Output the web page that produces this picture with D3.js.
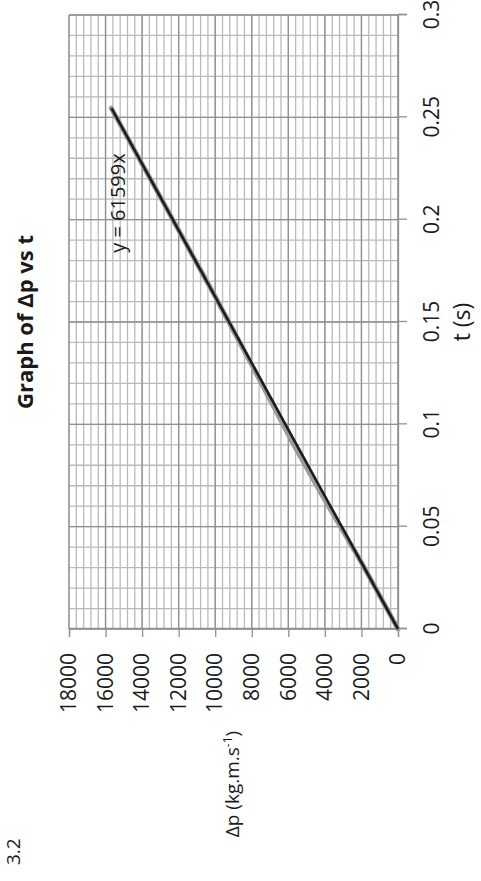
<!DOCTYPE html>
<html>
  <head>
    <meta charset="UTF-8">
    <title>Graph of Δp vs t</title>
    <style>
      body { margin: 0; background: #fff; }
      svg { display: block; }
      text { font-family: "Open Sans", "Noto Sans", sans-serif; fill: #1a1a1a; }
    </style>
  </head>
  <body>

    <svg class="chart"></svg>

    <script src="https://d3js.org/d3.v7.min.js"></script>
    <script>

/* DATA */
var tValues  = [0, 0.0325, 0.065, 0.09, 0.13, 0.165, 0.2, 0.2545];   // t (s)
var dpValues = [0, 2000, 4130, 5700, 8060, 10160, 12320, 15690];     // Δp (kg.m.s-1)
var trendSlope = 61599;                                             // y = 61599x
var tTicks  = [0, 0.05, 0.1, 0.15, 0.2, 0.25, 0.3];
var tLabels = ["0", "0.05", "0.1", "0.15", "0.2", "0.25", "0.3"];
var dpTicks = [0, 2000, 4000, 6000, 8000, 10000, 12000, 14000, 16000, 18000];

var W = 481, H = 881;

var svg = d3.select("svg")
    .attr("width", W)
    .attr("height", H);

// the whole chart is drawn the normal way, then turned a quarter left
var g = svg.append("g")
    .attr("transform", "translate(0," + H + ") rotate(-90)");

var x = d3.scaleLinear().domain([0, 0.3]).range([252, 866]);
var y = d3.scaleLinear().domain([0, 18000]).range([398, 69]);

// minor grid
var minorT = d3.range(0, 31).map(function(i) { return i / 100; });
var minorP = d3.range(0, 46).map(function(i) { return i * 400; });

g.append("g").selectAll("line")
  .data(minorT)
  .enter().append("line")
    .attr("x1", function(d) { return x(d); })
    .attr("x2", function(d) { return x(d); })
    .attr("y1", y(0))
    .attr("y2", y(18000))
    .attr("stroke", "#bababa")
    .attr("stroke-width", 1.3);

g.append("g").selectAll("line")
  .data(minorP)
  .enter().append("line")
    .attr("x1", x(0))
    .attr("x2", x(0.3))
    .attr("y1", function(d) { return y(d); })
    .attr("y2", function(d) { return y(d); })
    .attr("stroke", "#bababa")
    .attr("stroke-width", 1.3);

// major grid
g.append("g").selectAll("line")
  .data(tTicks)
  .enter().append("line")
    .attr("x1", function(d) { return x(d); })
    .attr("x2", function(d) { return x(d); })
    .attr("y1", y(0))
    .attr("y2", y(18000))
    .attr("stroke", "#909090")
    .attr("stroke-width", 1.3);

g.append("g").selectAll("line")
  .data(dpTicks)
  .enter().append("line")
    .attr("x1", x(0))
    .attr("x2", x(0.3))
    .attr("y1", function(d) { return y(d); })
    .attr("y2", function(d) { return y(d); })
    .attr("stroke", "#909090")
    .attr("stroke-width", 1.3);

// axes
var xAxis = d3.axisBottom(x)
    .tickValues(tTicks)
    .tickFormat(function(d, i) { return tLabels[i]; })
    .tickSize(9)
    .tickPadding(17);

var yAxis = d3.axisLeft(y)
    .tickValues(dpTicks)
    .tickFormat(d3.format("d"))
    .tickSize(8)
    .tickPadding(16);

var gx = g.append("g")
    .attr("transform", "translate(0," + y(0) + ")")
    .call(xAxis);

var gy = g.append("g")
    .attr("transform", "translate(" + x(0) + ",0)")
    .call(yAxis);

[gx, gy].forEach(function(a) {
  a.select(".domain").attr("stroke", "#909090").attr("stroke-width", 1.3);
  a.selectAll(".tick line").attr("stroke", "#909090").attr("stroke-width", 1.3);
  a.selectAll(".tick text")
      .attr("font-family", "Open Sans")
      .attr("font-size", 21)
      .attr("fill", "#1a1a1a");
});

// data line (grey) and trendline (black)
var line = d3.line()
    .x(function(d) { return x(d[0]); })
    .y(function(d) { return y(d[1]); });

var points = tValues.map(function(t, i) { return [t, dpValues[i]]; });

g.append("path")
    .datum(points)
    .attr("d", line)
    .attr("fill", "none")
    .attr("stroke", "#9b9b9b")
    .attr("stroke-width", 5)
    .attr("stroke-linecap", "round")
    .attr("stroke-linejoin", "round");

var tMax = d3.max(tValues);
g.append("path")
    .datum([[0, 0], [tMax, trendSlope * tMax]])
    .attr("d", line)
    .attr("fill", "none")
    .attr("stroke", "#1c1c1c")
    .attr("stroke-width", 2.6);

// trendline equation
g.append("text")
    .attr("x", x(0.1838))
    .attr("y", y(14940))
    .attr("text-anchor", "start")
    .attr("font-size", 20)
    .text("y = " + trendSlope + "x");

// titles
g.append("text")
    .attr("x", (x(0) + x(0.3)) / 2)
    .attr("y", 33)
    .attr("text-anchor", "middle")
    .attr("font-size", 22)
    .attr("font-weight", "bold")
    .text("Graph of Δp vs t");

g.append("text")
    .attr("x", (x(0) + x(0.3)) / 2)
    .attr("y", 470)
    .attr("text-anchor", "middle")
    .attr("font-size", 23)
    .text("t (s)");

var yTitle = g.append("text")
    .attr("x", 97)
    .attr("y", 239)
    .attr("text-anchor", "middle")
    .attr("font-size", 19);
yTitle.append("tspan").text("Δp (kg.m.s");
yTitle.append("tspan").attr("dy", -7).attr("font-size", 12).text("-1");
yTitle.append("tspan").attr("dy", 7).text(")");

g.append("text")
    .attr("x", 16)
    .attr("y", 20)
    .attr("font-size", 19)
    .attr("fill", "#444")
    .text("3.2");

</script>
  </body>
</html>
